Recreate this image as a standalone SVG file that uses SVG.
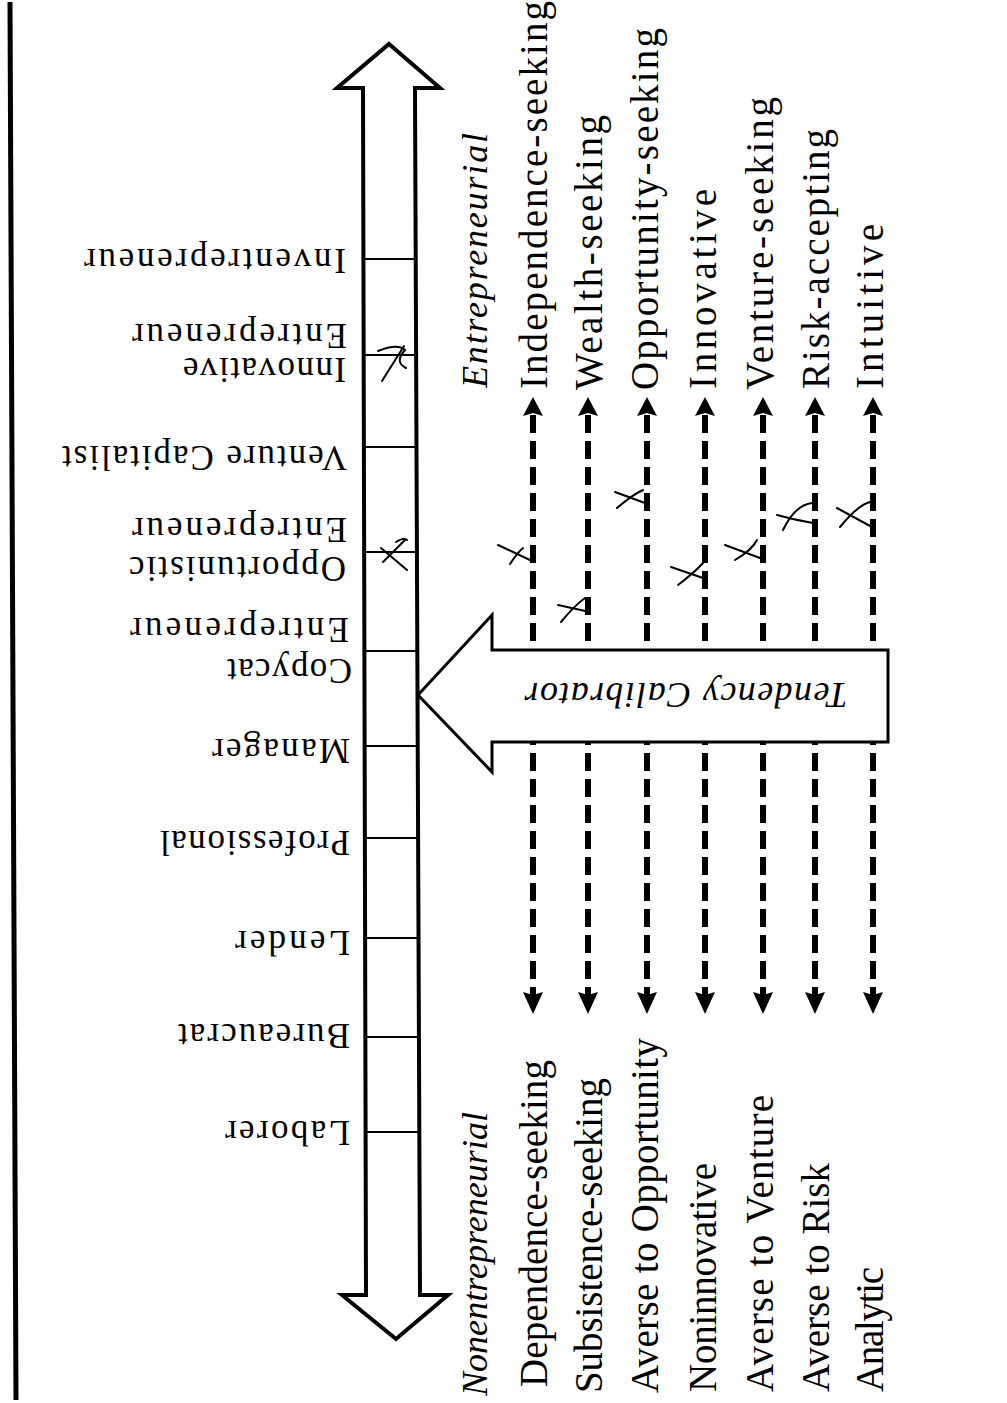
<svg xmlns="http://www.w3.org/2000/svg" width="1007" height="1403" viewBox="0 0 1007 1403">
<style>
.lbl{font-family:"Liberation Serif","Times New Roman",serif;font-size:35px;fill:#000}
.tr{font-family:"Liberation Serif","Times New Roman",serif;font-size:39px;fill:#000}
.hd{font-family:"Liberation Serif","Times New Roman",serif;font-size:36px;font-style:italic;fill:#000}
.tc{font-family:"Liberation Serif","Times New Roman",serif;font-size:36px;font-style:italic;fill:#000}
.outline{fill:#fff;stroke:#000;stroke-width:4;stroke-linejoin:miter}
.tick{stroke:#000;stroke-width:2}
.dash{stroke:#000;stroke-width:6;stroke-dasharray:18 8;fill:none}
.head{fill:#000}
.mark{fill:none;stroke:#000;stroke-width:2;stroke-linecap:round}
</style>
<rect width="1007" height="1403" fill="#fff"/>
<line x1="10" y1="2" x2="16" y2="1400" stroke="#000" stroke-width="5"/>

<g id="scale">
<polygon class="outline" points="389,44 440,88 415,88 420,1295 448,1295 396,1339 342,1295 366,1295 363,88 337,88"/>
<g id="scale-ticks">
<line class="tick" x1="363" y1="259" x2="416" y2="259"/>
<line class="tick" x1="363" y1="355" x2="416" y2="355"/>
<line class="tick" x1="363" y1="447" x2="416" y2="447"/>
<line class="tick" x1="364" y1="552" x2="417" y2="552"/>
<line class="tick" x1="364" y1="651" x2="417" y2="651"/>
<line class="tick" x1="364" y1="746" x2="417" y2="746"/>
<line class="tick" x1="364" y1="838" x2="418" y2="838"/>
<line class="tick" x1="365" y1="938" x2="418" y2="938"/>
<line class="tick" x1="365" y1="1037" x2="419" y2="1037"/>
<line class="tick" x1="365" y1="1132" x2="419" y2="1132"/>
</g>
</g>

<g id="scale-labels">
<g id="lbl-inventrepreneur"><text class="lbl" x="346" y="249" transform="rotate(180 346 249)" textLength="262" lengthAdjust="spacing">Inventrepreneur</text></g>
<g id="lbl-innovative-entrepreneur">
<text class="lbl" x="346" y="358" transform="rotate(180 346 358)" textLength="163" lengthAdjust="spacing">Innovative</text>
<text class="lbl" x="347" y="324" transform="rotate(180 347 324)" textLength="215" lengthAdjust="spacing">Entrepreneur</text>
</g>
<g id="lbl-venture-capitalist"><text class="lbl" x="347" y="446" transform="rotate(180 347 446)" textLength="285" lengthAdjust="spacing">Venture Capitalist</text></g>
<g id="lbl-opportunistic-entrepreneur">
<text class="lbl" x="346" y="557" transform="rotate(180 346 557)" textLength="217" lengthAdjust="spacing">Opportunistic</text>
<text class="lbl" x="347" y="518" transform="rotate(180 347 518)" textLength="215" lengthAdjust="spacing">Entrepreneur</text>
</g>
<g id="lbl-copycat-entrepreneur">
<text class="lbl" x="352" y="659" transform="rotate(180 352 659)" textLength="125" lengthAdjust="spacing">Copycat</text>
<text class="lbl" x="349" y="618" transform="rotate(180 349 618)" textLength="219" lengthAdjust="spacing">Entrepreneur</text>
</g>
<g id="lbl-manager"><text class="lbl" x="350" y="739" transform="rotate(180 350 739)" textLength="138" lengthAdjust="spacing">Manager</text></g>
<g id="lbl-professional"><text class="lbl" x="350" y="831" transform="rotate(180 350 831)" textLength="190" lengthAdjust="spacing">Professional</text></g>
<g id="lbl-lender"><text class="lbl" x="350" y="931" transform="rotate(180 350 931)" textLength="115" lengthAdjust="spacing">Lender</text></g>
<g id="lbl-bureaucrat"><text class="lbl" x="350" y="1024" transform="rotate(180 350 1024)" textLength="172" lengthAdjust="spacing">Bureaucrat</text></g>
<g id="lbl-laborer"><text class="lbl" x="350" y="1121" transform="rotate(180 350 1121)" textLength="125" lengthAdjust="spacing">Laborer</text></g>
</g>

<g id="connectors">
<line class="dash" x1="533" y1="415" x2="533" y2="995"/>
<line class="dash" x1="588" y1="415" x2="588" y2="995"/>
<line class="dash" x1="647" y1="415" x2="647" y2="995"/>
<line class="dash" x1="705" y1="415" x2="705" y2="995"/>
<line class="dash" x1="763" y1="415" x2="763" y2="995"/>
<line class="dash" x1="815" y1="415" x2="815" y2="995"/>
<line class="dash" x1="873" y1="415" x2="873" y2="995"/>
<g id="arrowheads">
<polygon class="head" points="533,397 543,416 533,413 523,416"/>
<polygon class="head" points="588,397 598,416 588,413 578,416"/>
<polygon class="head" points="647,397 657,416 647,413 637,416"/>
<polygon class="head" points="705,397 715,416 705,413 695,416"/>
<polygon class="head" points="763,397 773,416 763,413 753,416"/>
<polygon class="head" points="815,397 825,416 815,413 805,416"/>
<polygon class="head" points="873,397 883,416 873,413 863,416"/>
<polygon class="head" points="533,1014 543,992 533,995 523,992"/>
<polygon class="head" points="588,1014 598,992 588,995 578,992"/>
<polygon class="head" points="647,1014 657,992 647,995 637,992"/>
<polygon class="head" points="705,1014 715,992 705,995 695,992"/>
<polygon class="head" points="763,1014 773,992 763,995 753,992"/>
<polygon class="head" points="815,1014 825,992 815,995 805,992"/>
<polygon class="head" points="873,1014 883,992 873,995 863,992"/>
</g>
</g>

<g id="tendency-calibrator">
<polygon points="418,695 492,615 492,650 888,650 888,742 492,742 492,772" fill="#fff" stroke="#000" stroke-width="3" stroke-linejoin="miter"/>
<text class="tc" x="686" y="683" transform="rotate(180 686 683)" text-anchor="middle" textLength="323" lengthAdjust="spacing">Tendency Calibrator</text>
</g>

<g id="trait-labels-entrepreneurial">
<g id="hd-entrepreneurial"><text class="hd" x="487" y="388" transform="rotate(-90 487 388)" textLength="255" lengthAdjust="spacing">Entrepreneurial</text></g>
<g id="t-independence"><text class="tr" x="547" y="389" transform="rotate(-90 547 389)" textLength="388" lengthAdjust="spacing">Independence-seeking</text></g>
<g id="t-wealth"><text class="tr" x="602" y="390" transform="rotate(-90 602 390)" textLength="275" lengthAdjust="spacing">Wealth-seeking</text></g>
<g id="t-opportunity"><text class="tr" x="658" y="390" transform="rotate(-90 658 390)" textLength="362" lengthAdjust="spacing">Opportunity-seeking</text></g>
<g id="t-innovative"><text class="tr" x="716" y="389" transform="rotate(-90 716 389)" textLength="200" lengthAdjust="spacing">Innovative</text></g>
<g id="t-venture"><text class="tr" x="773" y="390" transform="rotate(-90 773 390)" textLength="293" lengthAdjust="spacing">Venture-seeking</text></g>
<g id="t-risk"><text class="tr" x="829" y="389" transform="rotate(-90 829 389)" textLength="260" lengthAdjust="spacing">Risk-accepting</text></g>
<g id="t-intuitive"><text class="tr" x="883" y="389" transform="rotate(-90 883 389)" textLength="165" lengthAdjust="spacing">Intuitive</text></g>
</g>

<g id="trait-labels-nonentrepreneurial">
<g id="hd-nonentrepreneurial"><text class="hd" x="487" y="1396" transform="rotate(-90 487 1396)" textLength="284" lengthAdjust="spacing">Nonentrepreneurial</text></g>
<g id="t-dependence"><text class="tr" x="547" y="1387" transform="rotate(-90 547 1387)" textLength="327" lengthAdjust="spacing">Dependence-seeking</text></g>
<g id="t-subsistence"><text class="tr" x="602" y="1393" transform="rotate(-90 602 1393)" textLength="315" lengthAdjust="spacing">Subsistence-seeking</text></g>
<g id="t-averse-opportunity"><text class="tr" x="658" y="1393" transform="rotate(-90 658 1393)" textLength="355" lengthAdjust="spacing">Averse to Opportunity</text></g>
<g id="t-noninnovative"><text class="tr" x="716" y="1392" transform="rotate(-90 716 1392)" textLength="229" lengthAdjust="spacing">Noninnovative</text></g>
<g id="t-averse-venture"><text class="tr" x="773" y="1392" transform="rotate(-90 773 1392)" textLength="297" lengthAdjust="spacing">Averse to Venture</text></g>
<g id="t-averse-risk"><text class="tr" x="829" y="1392" transform="rotate(-90 829 1392)" textLength="229" lengthAdjust="spacing">Averse to Risk</text></g>
<g id="t-analytic"><text class="tr" x="883" y="1392" transform="rotate(-90 883 1392)" textLength="125" lengthAdjust="spacing">Analytic</text></g>
</g>

<g id="marks">
<path class="mark" d="M382 381 L404 346 M378 351 Q398 343 405 350 Q394 362 406 368"/>
<path class="mark" d="M383 562 L405 540 M381 548 L407 570 M396 542 Q404 537 407 540"/>
<path class="mark" d="M498 545 L530 560 M510 564 Q518 552 523 548"/>
<path class="mark" d="M558 605 L590 612 M561 622 Q575 605 585 598"/>
<path class="mark" d="M615 492 L645 503 M617 508 Q632 495 643 490"/>
<path class="mark" d="M671 567 L703 578 M678 585 Q695 572 703 563"/>
<path class="mark" d="M725 545 L760 558 M735 560 Q752 550 757 540"/>
<path class="mark" d="M777 515 Q795 520 813 523 M783 530 Q795 505 812 503"/>
<path class="mark" d="M837 508 L872 527 M840 527 Q858 505 870 502"/>
</g>
</svg>
